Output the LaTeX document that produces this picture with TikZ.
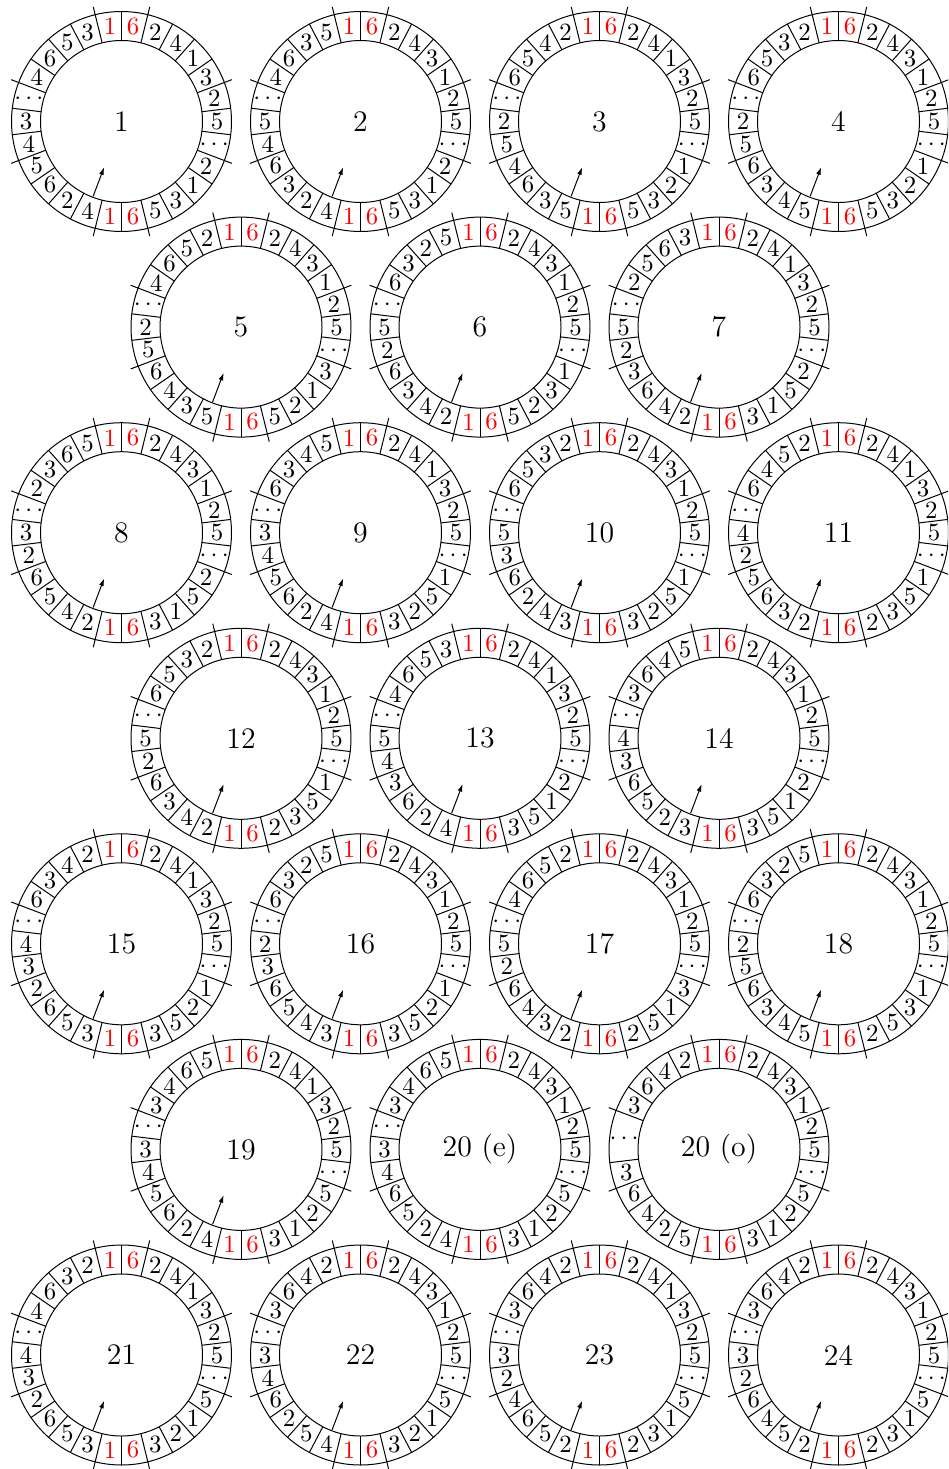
\documentclass[tikz,border=0pt]{standalone}
\usetikzlibrary{arrows.meta}

\tikzset{
  cell/.style={inner sep=0pt},
  hub/.style={inner sep=0pt,font=\large},
  pointer/.style={-{Latex[length=3pt,width=2pt]}},
}
\newcommand{\dd}{\smash{\raisebox{-0.25em}{$\cdots$}}}
% [boundary left out]{name}{centre}{label}{right cells}{left cells}
\newcommand{\wheel}[6][-1]{%
\begin{scope}[shift={(#3)}]
\coordinate (#2) at (0,0);
\draw (0,0) circle[radius=81] (0,0) circle[radius=110];
\foreach \j [evaluate=\j as \a using 90-\j*360/26] in {0,...,25}
  {\ifnum\j=#1\relax\else\draw (\a:81) -- (\a:110);\fi}
\foreach \j [evaluate=\j as \a using 90-\j*360/26] in {1,5,8,12,14,18,21,25}
  \draw (\a:110) -- (\a:118);
\node[cell,red] (#2-r0) at (90-180/26:95.5) {6};
\node[cell,red] (#2-r12) at (-90+180/26:95.5) {6};
\node[cell,red] (#2-l0) at (90+180/26:95.5) {1};
\node[cell,red] (#2-l12) at (270-180/26:95.5) {1};
\foreach \x [count=\k, evaluate=\k as \a using 90-(\k+0.5)*360/26] in {#5}
  \node[cell] (#2-r\k) at (\a:95.5) {\x};
\foreach \x [count=\k, evaluate=\k as \a using 90+(\k+0.5)*360/26] in {#6}
  {\ifx\x\empty\else\node[cell] (#2-l\k) at (\a:95.5) {\x};\fi}
\node[hub] (#2-c) at (0,0) {#4};
\coordinate (#2-p) at (90+11.5*360/26:80);
\coordinate (#2-q) at (90+11.5*360/26:49);
\end{scope}}

\begin{document}
\begin{tikzpicture}[x=0.01416cm,y=0.01416cm]
\useasboundingbox (0,0) rectangle (948,-1469);
\clip (0,0) rectangle (948,-1469);

% row 1
\wheel{w1}{121.5,-121.5}{1}{2,4,1,3,2,5,\dd,2,1,3,5}{3,5,6,4,\dd,3,4,5,6,2,4}
\wheel{w2}{360.5,-121.5}{2}{2,4,3,1,2,5,\dd,2,1,3,5}{5,3,6,4,\dd,5,4,6,3,2,4}
\wheel{w3}{599.5,-121.5}{3}{2,4,1,3,2,5,\dd,1,2,3,5}{2,4,5,6,\dd,2,5,4,6,3,5}
\wheel{w4}{838.5,-121.5}{4}{2,4,3,1,2,5,\dd,1,2,3,5}{2,3,5,6,\dd,2,5,6,3,4,5}
% row 2
\wheel{w5}{241,-327.1}{5}{2,4,3,1,2,5,\dd,3,1,2,5}{2,5,6,4,\dd,2,5,6,4,3,5}
\wheel{w6}{480,-327.1}{6}{2,4,3,1,2,5,\dd,1,3,2,5}{5,2,3,6,\dd,5,2,6,3,4,2}
\wheel{w7}{719,-327.1}{7}{2,4,1,3,2,5,\dd,2,5,1,3}{3,6,5,2,\dd,5,2,3,6,4,2}
% row 3
\wheel{w8}{121.5,-532.7}{8}{2,4,3,1,2,5,\dd,2,5,1,3}{5,6,3,2,\dd,3,2,6,5,4,2}
\wheel{w9}{360.5,-532.7}{9}{2,4,1,3,2,5,\dd,1,5,2,3}{5,4,3,6,\dd,3,4,5,6,2,4}
\wheel{w10}{599.5,-532.7}{10}{2,4,3,1,2,5,\dd,1,5,2,3}{2,3,5,6,\dd,5,3,6,2,4,3}
\wheel{w11}{838.5,-532.7}{11}{2,4,1,3,2,5,\dd,1,5,3,2}{2,5,4,6,\dd,4,2,5,6,3,2}
% row 4
\wheel{w12}{241,-738.3}{12}{2,4,3,1,2,5,\dd,1,5,3,2}{2,3,5,6,\dd,5,2,6,3,4,2}
\wheel{w13}{480,-738.3}{13}{2,4,1,3,2,5,\dd,2,1,5,3}{3,5,6,4,\dd,5,4,3,6,2,4}
\wheel{w14}{719,-738.3}{14}{2,4,3,1,2,5,\dd,2,1,5,3}{5,4,6,3,\dd,4,3,6,5,2,3}
% row 5
\wheel{w15}{121.5,-943.8}{15}{2,4,1,3,2,5,\dd,1,2,5,3}{2,4,3,6,\dd,4,3,2,6,5,3}
\wheel{w16}{360.5,-943.8}{16}{2,4,3,1,2,5,\dd,1,2,5,3}{5,2,3,6,\dd,2,3,6,5,4,3}
\wheel{w17}{599.5,-943.8}{17}{2,4,3,1,2,5,\dd,3,1,5,2}{2,5,6,4,\dd,5,2,6,4,3,2}
\wheel{w18}{838.5,-943.8}{18}{2,4,3,1,2,5,\dd,1,3,5,2}{5,2,3,6,\dd,2,5,6,3,4,5}
% row 6
\wheel{w19}{241,-1149.4}{19}{2,4,1,3,2,5,\dd,5,2,1,3}{5,6,4,3,\dd,3,4,5,6,2,4}
\wheel{w20e}{480,-1149.4}{20 (e)}{2,4,3,1,2,5,\dd,5,2,1,3}{5,6,4,3,\dd,3,4,6,5,2,4}
\wheel[20]{w20o}{719,-1149.4}{20 (o)}{2,4,3,1,2,5,\dd,5,2,1,3}{2,4,6,3,{},{},3,6,4,2,5}
\node[cell] (w20o-m) at ([shift={(90+6*360/26:95.5)}]w20o) {\dd};
% row 7
\wheel{w21}{121.5,-1355}{21}{2,4,1,3,2,5,\dd,5,1,2,3}{2,3,6,4,\dd,4,3,2,6,5,3}
\wheel{w22}{360.5,-1355}{22}{2,4,3,1,2,5,\dd,5,1,2,3}{2,4,6,3,\dd,3,4,6,2,5,4}
\wheel{w23}{599.5,-1355}{23}{2,4,1,3,2,5,\dd,5,1,3,2}{2,4,6,3,\dd,3,2,4,6,5,2}
\wheel{w24}{838.5,-1355}{24}{2,4,3,1,2,5,\dd,5,1,3,2}{2,4,6,3,\dd,3,2,6,4,5,2}

% pointers
\foreach \w in {w1,w2,w3,w4,w5,w6,w7,w8,w9,w10,w11,w12,w13,w14,w15,w16,w17,w18,w19,w21,w22,w23,w24}
  \draw[pointer] (\w-p) -- (\w-q);
\end{tikzpicture}
\end{document}
